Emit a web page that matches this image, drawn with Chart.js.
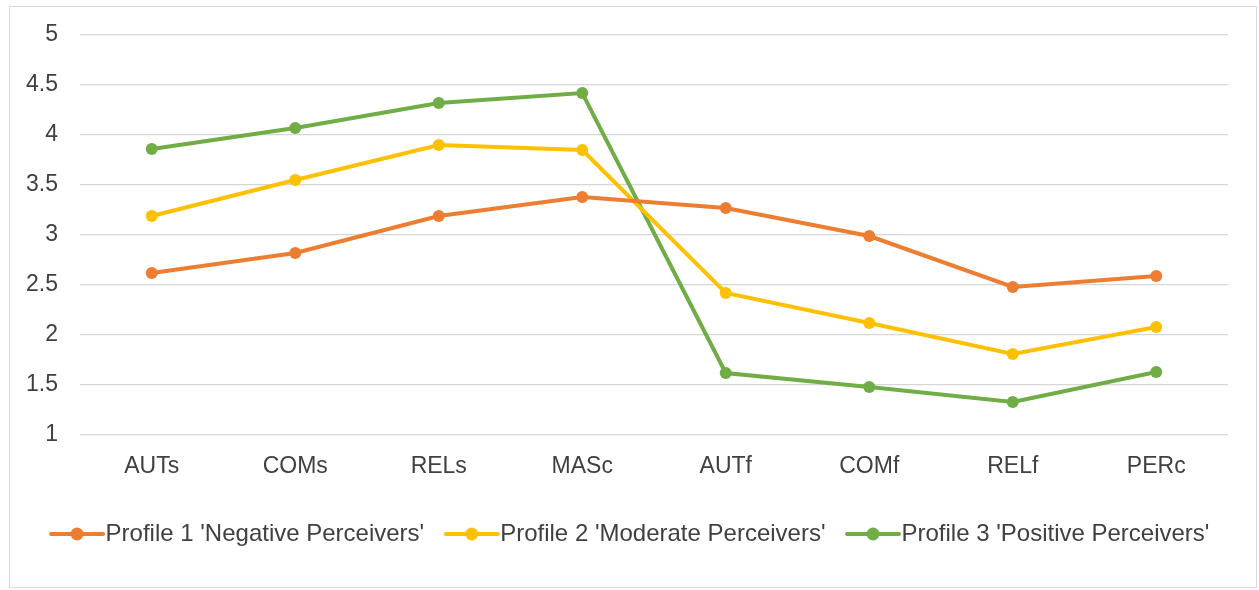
<!DOCTYPE html>
<html lang="en">
<head>
  <meta charset="UTF-8" />
  <title>Perceiver Profiles</title>
  <script src="https://cdn.jsdelivr.net/npm/chart.js"></script>
  <style>
    html, body { margin: 0; padding: 0; background: #fff; }
    #frame {
      position: absolute; left: 9px; top: 6px;
      width: 1248px; height: 582px;
      box-sizing: border-box;
      border: 1px solid #d9d9d9;
    }
  </style>
</head>
<body>
  <div id="frame"><canvas id="profileChart"></canvas></div>

  <script>
    // data
    const categories = ["AUTs", "COMs", "RELs", "MASc", "AUTf", "COMf", "RELf", "PERc"];
    const profile1 = [2.62, 2.82, 3.19, 3.38, 3.27, 2.99, 2.48, 2.59];
    const profile2 = [3.19, 3.55, 3.90, 3.85, 2.42, 2.12, 1.81, 2.08];
    const profile3 = [3.86, 4.07, 4.32, 4.42, 1.62, 1.48, 1.33, 1.63];
    const seriesNames = [
      "Profile 1 'Negative Perceivers'",
      "Profile 2 'Moderate Perceivers'",
      "Profile 3 'Positive Perceivers'"
    ];
    const colors = ["#ED7D31", "#FFC000", "#70AD47"];

    const FONT = "'Liberation Sans', Arial, sans-serif";
    const TEXT = "#404040";

    // little line+dot icon for the legend, like the excel one
    function legendIcon(color) {
      const c = document.createElement("canvas");
      c.width = 60; c.height = 14;
      const g = c.getContext("2d");
      g.strokeStyle = color;
      g.lineWidth = 4;
      g.lineCap = "round";
      // drawn 2px right of centre so the whole legend sits like the original
      g.beginPath(); g.moveTo(6, 7); g.lineTo(58, 7); g.stroke();
      g.fillStyle = color;
      g.beginPath(); g.arc(32, 7, 6.5, 0, Math.PI * 2); g.fill();
      return c;
    }
    const icons = colors.map(legendIcon);

    const allSeries = [profile1, profile2, profile3];

    new Chart(document.getElementById("profileChart"), {
      type: "line",
      data: {
        labels: categories,
        datasets: allSeries.map((vals, i) => ({
          label: seriesNames[i],
          data: vals,
          borderColor: colors[i],
          backgroundColor: colors[i],
          borderWidth: 4,
          pointRadius: 6,
          pointBorderWidth: 0,
          pointBackgroundColor: colors[i],
          tension: 0,
          yAxisID: "y"
        }))
      },
      options: {
        responsive: true,
        maintainAspectRatio: false,
        animation: false,
        layout: { padding: { top: 28, left: 0, right: 0, bottom: 31 } },
        scales: {
          x: {
            offset: true,
            grid: { display: false },
            border: { display: false },
            ticks: { color: TEXT, font: { family: FONT, size: 23 }, padding: 10 },
            afterFit: s => { s.height = 60; }
          },
          y: {
            min: 1, max: 5,
            grid: { color: "#d6d6d6", lineWidth: 1.2, drawTicks: false },
            border: { display: false },
            ticks: {
              stepSize: 0.5,
              color: TEXT,
              padding: 22,
              // small lineHeight so the label overhang doesn't push the plot down
              font: { family: FONT, size: 23, lineHeight: 0.5 },
              callback: v => String(v)
            },
            afterFit: s => { s.width = 70; }
          },
          // empty axis on the right, only keeps the plot off the frame edge
          yRight: {
            position: "right",
            grid: { display: false },
            border: { display: false },
            ticks: { display: false },
            afterFit: s => { s.width = 28; }
          }
        },
        plugins: {
          legend: {
            position: "bottom",
            labels: {
              usePointStyle: true,
              pointStyleWidth: 37,
              padding: 27,
              color: TEXT,
              font: { family: FONT, size: 24 },
              generateLabels: chart =>
                Chart.defaults.plugins.legend.labels.generateLabels(chart)
                  .map((item, i) => ({ ...item, pointStyle: icons[i] }))
            }
          },
          tooltip: { enabled: false }
        }
      }
    });
  </script>
</body>
</html>
